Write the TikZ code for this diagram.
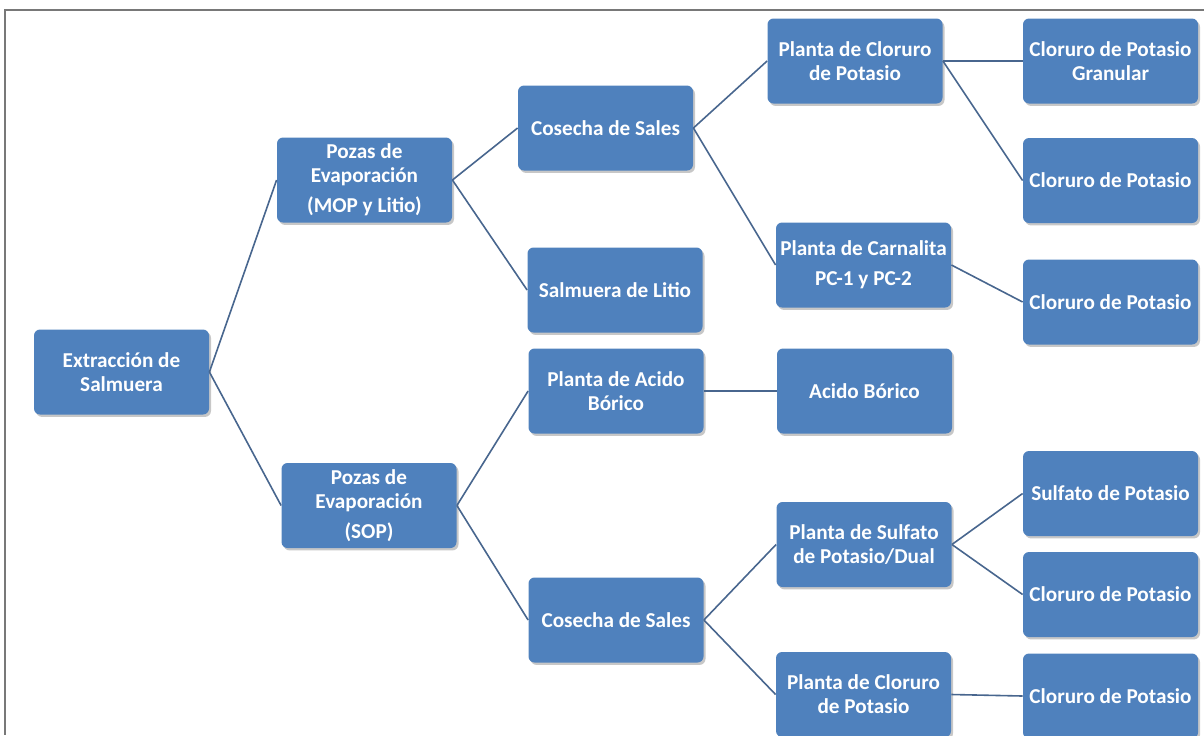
\documentclass[tikz,border=0pt]{standalone}
\usepackage{fontspec}
\setmainfont{Carlito}
\usetikzlibrary{shadows}
\definecolor{boxblue}{RGB}{79,129,189}
\definecolor{linkcol}{RGB}{72,102,142}
\definecolor{framegray}{RGB}{120,120,120}
\begin{document}
\begin{tikzpicture}[x=0.5pt,y=-0.5pt,
  box/.style={rectangle, rounded corners=3pt, fill=boxblue, text=white,
    font=\fontsize{10.6}{12}\selectfont\bfseries, align=center,
    minimum width=87.5pt, minimum height=42.5pt, inner sep=2pt,
    drop shadow={shadow xshift=1pt, shadow yshift=-1.2pt, fill=black, opacity=0.22}},
  link/.style={draw=linkcol, line width=0.8pt}]
\useasboundingbox (0,0) rectangle (1204,735);
\draw[framegray, line width=0.8pt] (1204,10) -- (5,10) -- (5,735);

\node[box] (extr) at (121.5,372) {Extracción de\\Salmuera};

\node[box] (pozasA) at (364.5,180) {Pozas de\\Evaporación\\[3pt](MOP y Litio)};
\node[box] (pozasB) at (369,505.5) {Pozas de\\Evaporación\\[3pt](SOP)};

\node[box] (cosechaA) at (605.5,128) {Cosecha de Sales};
\node[box] (salmuera) at (615,290) {Salmuera de Litio};
\node[box] (plantaAB) at (616,391) {Planta de Acido\\Bórico};
\node[box] (cosechaB) at (616,620) {Cosecha de Sales};

\node[box] (plantaKA) at (855,61) {Planta de Cloruro\\de Potasio};
\node[box] (carnal) at (863.5,265) {Planta de Carnalita\\[3pt]PC-1 y PC-2};
\node[box] (acido) at (864.5,391) {Acido Bórico};
\node[box] (sulfato) at (864,544.5) {Planta de Sulfato\\de Potasio/Dual};
\node[box] (plantaKB) at (863.5,694.5) {Planta de Cloruro\\de Potasio};

\node[box] (kclGran) at (1110.5,61) {Cloruro de Potasio\\Granular};
\node[box] (kclA) at (1110.5,180.5) {Cloruro de Potasio};
\node[box] (kclB) at (1110.5,302) {Cloruro de Potasio};
\node[box] (sop) at (1110.5,493.5) {Sulfato de Potasio};
\node[box] (kclC) at (1110.5,594.5) {Cloruro de Potasio};
\node[box] (kclD) at (1110.5,696) {Cloruro de Potasio};

\draw[link] (extr.east) edge (pozasA.west);
\draw[link] (extr.east) edge (pozasB.west);
\draw[link] (pozasA.east) edge (cosechaA.west);
\draw[link] (pozasA.east) edge (salmuera.west);
\draw[link] (pozasB.east) edge (plantaAB.west);
\draw[link] (pozasB.east) edge (cosechaB.west);
\draw[link] (cosechaA.east) edge (plantaKA.west);
\draw[link] (cosechaA.east) edge (carnal.west);
\draw[link] (plantaAB.east) edge (acido.west);
\draw[link] (cosechaB.east) edge (sulfato.west);
\draw[link] (cosechaB.east) edge (plantaKB.west);
\draw[link] (plantaKA.east) edge (kclGran.west);
\draw[link] (plantaKA.east) edge (kclA.west);
\draw[link] (carnal.east) edge (kclB.west);
\draw[link] (sulfato.east) edge (sop.west);
\draw[link] (sulfato.east) edge (kclC.west);
\draw[link] (plantaKB.east) edge (kclD.west);

\end{tikzpicture}
\end{document}
